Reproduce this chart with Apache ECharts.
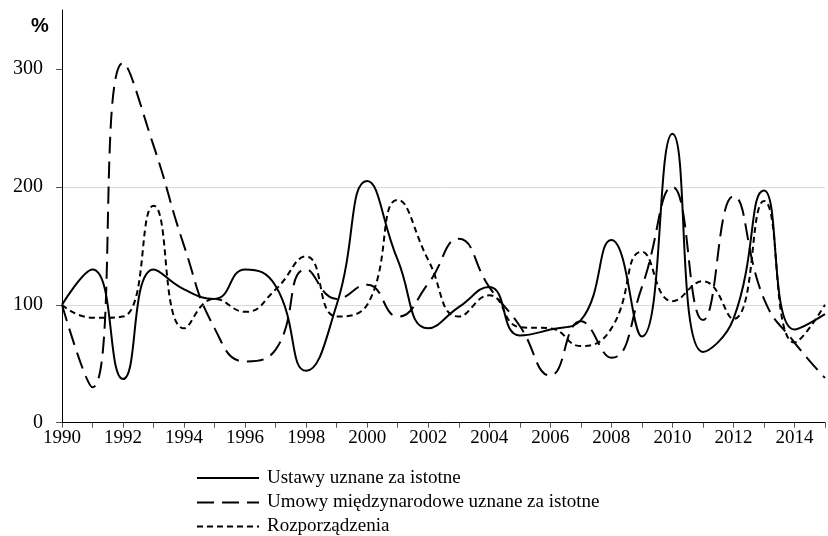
<!DOCTYPE html>
<html>
<head>
<meta charset="utf-8">
<script src="https://cdn.jsdelivr.net/npm/echarts@6/dist/echarts.min.js"></script>
<style>html,body{margin:0;padding:0;background:#fff}#c{width:828px;height:536px}</style>
</head>
<body>
<div id="c"></div>
<script>
const years = [1990,1991,1992,1993,1994,1995,1996,1997,1998,1999,2000,2001,2002,2003,2004,2005,2006,2007,2008,2009,2010,2011,2012,2013,2014,2015];
const ustawy = [100,130,37,130,113,105,130,116,44,100,205,138,80,98,115,74,79,87,155,73,245,60,88,197,79,92];
const umowy = [100,30,305,235,150,80,52,62,130,105,117,90,118,156,115,82,40,86,55,115,200,87,192,105,68,38];
const rozporzadzenia = [100,89,90,184,80,105,94,113,141,90,100,189,138,90,108,81,80,65,80,145,103,120,88,188,68,100];
const seriesNames = ['Ustawy uznane za istotne','Umowy międzynarodowe uznane za istotne','Rozporządzenia'];
const yTicks = [0,100,200,300];

const pairs = arr => years.map((y,i)=>[y,arr[i]]);
const serif = 'Liberation Serif';
const chart = echarts.init(document.getElementById('c'));
const mk = (name, arr, type) => ({
  name, type:'line', data: pairs(arr), smooth:0.5, symbol:'none', showSymbol:false,
  lineStyle:{color:'#000', width:2, type}, itemStyle:{color:'#000'}
});
const legendRowTops = [468, 492.5, 516.5];
const legends = seriesNames.map((n,i)=>({
  orient:'vertical', left:196, top:legendRowTops[i], padding:0, itemWidth:62, itemHeight:14, itemGap:0,
  itemStyle:{color:'transparent', borderWidth:0, opacity:0},
  textStyle:{fontFamily:serif, fontSize:19, color:'#000', lineHeight:20, padding:[0,0,0,3]},
  data:[n], selectedMode:false
}));
chart.setOption({
  animation:false,
  backgroundColor:'#fff',
  grid:{left:62, top:10, bottom:113.3, right:-4.8, containLabel:false},
  graphic:[{type:'text', left:31, top:16, style:{text:'%', font:'bold 20px "Liberation Sans"', fill:'#000'}}],
  xAxis:{type:'value', min:1990, max:2015, interval:1,
    axisLine:{lineStyle:{color:'#000', width:1}},
    axisTick:{show:true, length:5, lineStyle:{color:'#555'}},
    splitLine:{show:false},
    axisLabel:{margin:6, fontFamily:serif, fontSize:19, color:'#000',
      formatter: v => (v%2===0 && v<2015) ? String(v) : ''}
  },
  yAxis:{type:'value', min:0, max:350, interval:100,
    axisLine:{show:true, lineStyle:{color:'#000', width:1}},
    axisTick:{show:true, length:6, customValues:yTicks, lineStyle:{color:'#555'}},
    splitLine:{show:true, showMaxLine:false, lineStyle:{color:'#d9d9d9', width:1}},
    axisLabel:{margin:19, fontFamily:serif, fontSize:20, color:'#000', customValues:yTicks}
  },
  legend: legends,
  series:[
    mk(seriesNames[0], ustawy, 'solid'),
    mk(seriesNames[1], umowy, [17,8]),
    mk(seriesNames[2], rozporzadzenia, [6,4])
  ]
});
</script>
</body>
</html>
